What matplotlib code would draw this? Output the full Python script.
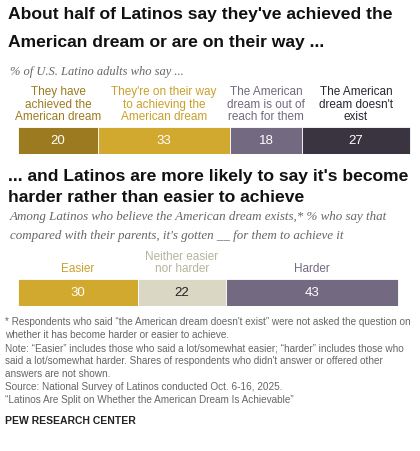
import matplotlib.pyplot as plt

W, H = 420, 452

cats1 = ["They have\nachieved the\nAmerican dream", "They're on their way\nto achieving the\nAmerican dream",
         "The American\ndream is out of\nreach for them", "The American\ndream doesn't\nexist"]
vals1 = [20, 33, 18, 27]
cols1 = ["#9C7A1F", "#D1A92F", "#736980", "#3A3440"]
lab1 = ["#9C7A1F", "#C9A02A", "#736980", "#2A2530"]

cats2 = ["Easier", "Neither easier\nnor harder", "Harder"]
vals2 = [30, 22, 43]
cols2 = ["#D1A92F", "#DAD7C5", "#736980"]
lab2 = ["#C9A02A", "#B8B39C", "#736980"]
num2 = ["white", "#222222", "white"]

fig = plt.figure(figsize=(W / 100, H / 100), dpi=100)
plt.rcParams['font.family'] = ['Liberation Sans', 'DejaVu Sans']

def T(x, y, s, **kw):
    fig.text(x / W, 1 - y / H, s, **kw)

def bars(top, vals, cols, cats, labcols, numcols):
    ax = fig.add_axes([18 / W, 1 - (top + 27) / H, 400 / W, 27 / H])
    left = 0
    for v, c, name, lc, nc in zip(vals, cols, cats, labcols, numcols):
        ax.barh(0, v, left=left, color=c, height=1, edgecolor="white", linewidth=0.6)
        ax.text(left + v / 2, 0, str(v), ha="center", va="center", color=nc, fontsize=9.5)
        ax.text(left + v / 2, 0.5 + 5 / 27, name, ha="center", va="bottom", color=lc,
                fontsize=8.5, linespacing=1.05)
        left += v
    ax.set_xlim(0, 100)
    ax.set_ylim(-0.5, 0.5)
    ax.axis("off")

T(8, 15, "About half of Latinos say they've achieved the", fontsize=12.6, fontweight="bold",
  va="center", color="#111111")
T(8, 42, "American dream or are on their way ...", fontsize=12.6, fontweight="bold",
  va="center", color="#111111")
T(10, 72, "% of U.S. Latino adults who say ...", fontsize=9, style="italic", va="center", color="#666666",
  family="Liberation Serif")
bars(128, vals1, cols1, cats1, lab1, ["white"] * 4)

T(8, 177, "... and Latinos are more likely to say it's become", fontsize=12.6, fontweight="bold",
  va="center", color="#111111")
T(8, 198, "harder rather than easier to achieve", fontsize=12.6, fontweight="bold",
  va="center", color="#111111")
T(10, 217, "Among Latinos who believe the American dream exists,* % who say that",
  fontsize=9.4, style="italic", va="center", color="#666666", family="Liberation Serif")
T(10, 236, "compared with their parents, it's gotten __ for them to achieve it",
  fontsize=9.4, style="italic", va="center", color="#666666", family="Liberation Serif")
bars(280, vals2, cols2, cats2, lab2, num2)

foot = ("* Respondents who said \u201cthe American dream doesn't exist\u201d were not asked the question on\n"
        "whether it has become harder or easier to achieve.\n"
        "Note: \u201cEasier\u201d includes those who said a lot/somewhat easier; \u201charder\u201d includes those who\n"
        "said a lot/somewhat harder. Shares of respondents who didn't answer or offered other\n"
        "answers are not shown.\n"
        "Source: National Survey of Latinos conducted Oct. 6-16, 2025.\n"
        "\u201cLatinos Are Split on Whether the American Dream Is Achievable\u201d")
T(5, 317, foot, fontsize=7.2, va="top", color="#666666", linespacing=1.38)
T(5, 421, "PEW RESEARCH CENTER", fontsize=7.5, fontweight="bold", va="center", color="#222222")

fig.savefig("out.png", dpi=100, facecolor="white")
